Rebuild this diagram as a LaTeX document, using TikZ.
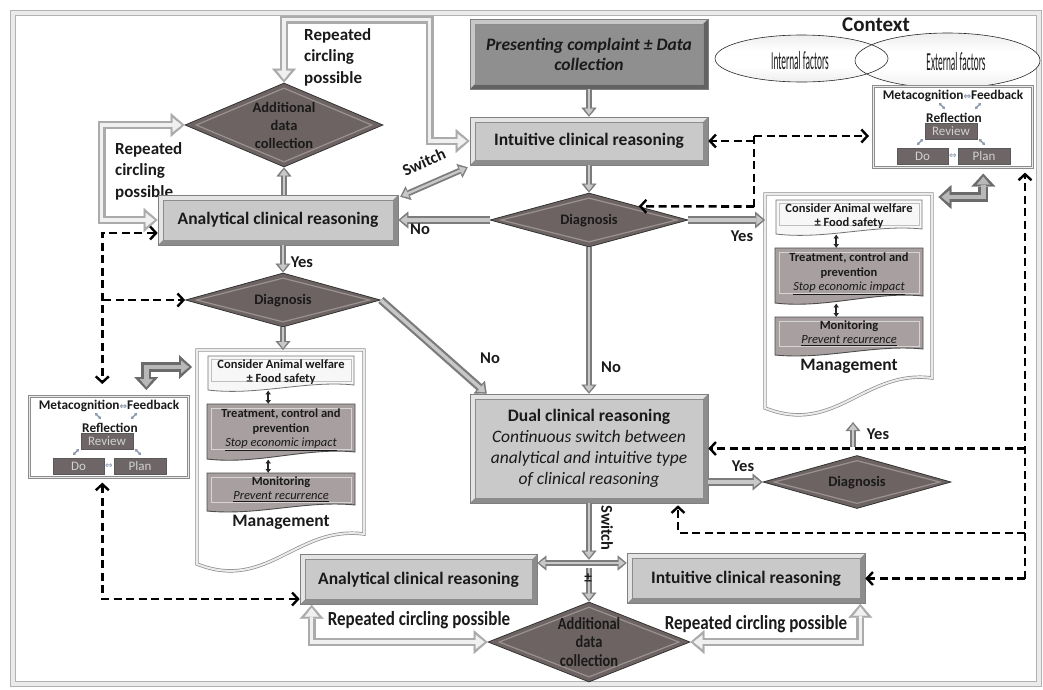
\documentclass[tikz,border=0pt]{standalone}
\usepackage{fontspec}
\setmainfont{Carlito}
\newfontfamily\narrowf[FakeStretch=0.85]{Carlito}
\newfontfamily\thinf[FakeStretch=0.36]{Carlito}
\newfontfamily\symf{DejaVu Sans}
\usetikzlibrary{shapes.geometric,arrows.meta,calc}
\definecolor{boxl}{HTML}{C9C9C9}
\definecolor{boxd}{HTML}{8F8F8F}
\definecolor{diam}{HTML}{6E6363}
\definecolor{mgray}{HTML}{A8A0A0}
\definecolor{mbxc}{HTML}{6E6666}
\definecolor{txt}{HTML}{1A1A1A}
\definecolor{arrout}{HTML}{7C7C7C}
\definecolor{arrin}{HTML}{C8C8C8}
\definecolor{sarrc}{HTML}{7F8EA6}
\newcommand{\fs}[2]{\fontsize{#1}{#2}\selectfont}
\pgfdeclareverticalshading{ellsh}{100bp}{color(0bp)=(black!28); color(22bp)=(black!8); color(42bp)=(white); color(58bp)=(white); color(78bp)=(black!8); color(100bp)=(black!28)}

\tikzset{
  bev/.style={path picture={
    \path (path picture bounding box.south west) coordinate (bA)
          (path picture bounding box.north west) coordinate (bB)
          (path picture bounding box.north east) coordinate (bC)
          (path picture bounding box.south east) coordinate (bD);
    \fill[white,opacity=.5] (bA) -- (bB) -- (bC) -- ([shift={(-#1,-#1)}]bC) -- ([shift={(#1,-#1)}]bB) -- ([shift={(#1,#1)}]bA) -- cycle;
    \fill[black,opacity=.3] (bA) -- (bD) -- (bC) -- ([shift={(-#1,-#1)}]bC) -- ([shift={(-#1,#1)}]bD) -- ([shift={(#1,#1)}]bA) -- cycle;
    \draw[black!45,line width=.5pt] ([shift={(#1,#1)}]bA) rectangle ([shift={(-#1,-#1)}]bC);
  }},
  bev/.default=5pt,
  lbox/.style={rectangle, fill=boxl, draw=black!50, line width=.6pt, bev, text=txt,
    align=center, inner sep=0pt, font=\fs{17.5}{21}\bfseries},
  dbox/.style={lbox, fill=boxd},
  dmd/.style={diamond, fill=diam, draw=black!80, line width=.8pt, inner sep=0pt,
    path picture={
      \path (path picture bounding box.north) coordinate (dN)
            (path picture bounding box.south) coordinate (dS)
            (path picture bounding box.east) coordinate (dE)
            (path picture bounding box.west) coordinate (dW);
      \draw[white,opacity=.3,line width=1.2pt] ([yshift=-5pt]dN) -- ([xshift=-11pt]dE) -- ([yshift=5pt]dS) -- ([xshift=11pt]dW) -- cycle;
    }},
  dtxt/.style={text=txt, align=center, inner sep=0pt, font=\fs{14.5}{18}\bfseries},
  yn/.style={text=txt, inner sep=0pt, font=\fs{16.5}{18}\bfseries},
  rc/.style={text=txt, inner sep=0pt, font=\fs{17}{21.5}\bfseries},
  mt/.style={text=txt, inner sep=0pt, font=\fs{12.5}{15}\bfseries},
  mti/.style={text=txt, inner sep=0pt, font=\fs{12.5}{15}\itshape},
  mtx/.style={text=txt, inner sep=0pt, font=\fs{13.3}{15}\bfseries},
  mbx/.style={rectangle, fill=mbxc, draw=black!65, line width=.6pt, text=white!82!black,
    inner sep=0pt, minimum height=16pt, font=\fs{13}{15}},
  ba/.style={line width=6pt, draw=arrout, -{Triangle[length=9pt,width=15pt,line width=0.3pt]},
    postaction={draw=arrin, line width=2.4pt, -{Triangle[length=6pt,width=9pt,line width=0.3pt]}, shorten >=2pt}},
  baw/.style={line width=8pt, draw=arrout, -{Triangle[length=10pt,width=17pt,line width=0.3pt]},
    postaction={draw=arrin, line width=3.5pt, -{Triangle[length=6.5pt,width=10pt,line width=0.3pt]}, shorten >=2.2pt}},
  bab/.style={line width=6pt, draw=arrout,
    {Triangle[length=9pt,width=15pt,line width=0.3pt]}-{Triangle[length=9pt,width=15pt,line width=0.3pt]},
    postaction={draw=arrin, line width=2.4pt,
      {Triangle[length=6pt,width=9pt,line width=0.3pt]}-{Triangle[length=6pt,width=9pt,line width=0.3pt]},
      shorten >=2pt, shorten <=2pt}},
  lpb/.style={line width=8pt, draw=black!33,
    {Triangle[length=14pt,width=24pt,line width=0.3pt]}-{Triangle[length=14pt,width=24pt,line width=0.3pt]},
    postaction={draw=black!6, line width=3.5pt,
      {Triangle[length=9pt,width=14pt,line width=0.3pt]}-{Triangle[length=9pt,width=14pt,line width=0.3pt]},
      shorten >=3pt, shorten <=3pt}},
  elb/.style={line width=10pt, draw=black!58,
    {Triangle[length=13pt,width=24pt,line width=0.3pt]}-{Triangle[length=13pt,width=24pt,line width=0.3pt]},
    postaction={draw=black!28, line width=4.5pt,
      {Triangle[length=8pt,width=13pt,line width=0.3pt]}-{Triangle[length=8pt,width=13pt,line width=0.3pt]},
      shorten >=3pt, shorten <=3pt}},
  dsh/.style={draw=black, line width=2.6pt, dash pattern=on 8pt off 4.5pt,
    >={Straight Barb[length=6pt,width=13pt,line width=2.4pt]}},
  sar/.style={draw=sarrc, line width=1.3pt, {Latex[length=2.5pt,width=3.5pt]}-{Latex[length=2.5pt,width=3.5pt]}},
  dbl/.style={draw=black!85, line width=1.5pt, {Latex[length=4pt,width=6pt]}-{Latex[length=4pt,width=6pt]}},
}

% management document block: x y name
\newcommand{\mgmtdoc}[3]{%
\begin{scope}[shift={(#1,#2)}]
 \node[anchor=north west, minimum width=167pt, minimum height=216pt, inner sep=0pt] (#3) at (0,0) {};
 \draw[draw=black!45, double=black!8, double distance=2pt, line width=.7pt, fill=white]
   (0,0) -- (167,0) -- (167,184) .. controls (100,175) and (70,242) .. (0,214) -- cycle;
 \node[anchor=north west, minimum width=146pt, minimum height=34pt, inner sep=0pt] (#3c) at (11,6) {};
 \node[anchor=north west, minimum width=148pt, minimum height=55pt, inner sep=0pt] (#3t) at (10,54) {};
 \node[anchor=north west, minimum width=148pt, minimum height=38pt, inner sep=0pt] (#3m) at (10,123) {};
 \draw[draw=black!55, line width=.8pt, fill=black!3]
   (11,6) -- (157,6) -- (157,35) .. controls (110,30) and (60,46) .. (11,40) -- cycle;
 \draw[black!25, line width=.6pt] (14,9) rectangle (154,31);
 \draw[draw=black!70, line width=.9pt, fill=mgray]
   (10,54) -- (158,54) -- (158,102) .. controls (110,97) and (60,115) .. (10,109) -- cycle;
 \draw[white, opacity=.55, line width=.8pt] (14,58) rectangle (154,99);
 \draw[draw=black!70, line width=.9pt, fill=mgray]
   (10,123) -- (158,123) -- (158,155) .. controls (110,150) and (60,166) .. (10,161) -- cycle;
 \draw[white, opacity=.55, line width=.8pt] (14,127) rectangle (154,152);
 \node[mt] (#3a1) at (84,14) {Consider Animal welfare};
 \node[mt] (#3a2) at (84,29) {± Food safety};
 \node[mt] (#3b1) at (84,64) {Treatment, control and};
 \node[mt] (#3b2) at (84,79) {prevention};
 \node[mti] (#3b3) at (84,94) {\underline{Stop economic impact}};
 \node[mt] (#3m1) at (84,132) {Monitoring};
 \node[mti] (#3m2) at (84,147) {\underline{Prevent recurrence}};
 \node[text=txt, inner sep=0pt, font=\fs{17.5}{20}\bfseries] (#3lab) at (84,172) {Management};
 \draw[dbl] ([xshift=-13pt]#3c.south) -- ([xshift=-13pt]#3t.north);
 \draw[dbl] ([xshift=-13pt]#3t.south) -- ([xshift=-13pt]#3m.north);
\end{scope}}

% metacognition block: x y name
\newcommand{\metablock}[3]{%
\begin{scope}[shift={(#1,#2)}]
 \node[anchor=north west, minimum width=159pt, minimum height=81pt, inner sep=0pt, fill=white,
   draw=black!45, double=black!8, double distance=1.5pt, line width=.6pt] (#3) at (0,0) {};
 \node[mtx] (#3a) at (80,10) {Metacognition{\symf\fontsize{9}{9}\selectfont\color{sarrc}⇔}Feedback};
 \node[mtx] (#3b) at (81,32) {Reflection};
 \node[mbx, minimum width=52pt] (#3r) at (78,45) {Review};
 \node[mbx, minimum width=51pt] (#3d) at (49.5,70) {Do};
 \node[mbx, minimum width=52pt] (#3p) at (111,70) {Plan};
 \node[inner sep=0pt, text=sarrc, font=\symf\fs{9}{9}] (#3e) at (80,70) {⇔};
 \draw[sar] (66,17) -- (72,23);
 \draw[sar] (108,17) -- (102,23);
 \draw[sar] (50,53) -- (44,59);
 \draw[sar] (106,53) -- (112,59);
\end{scope}}

\begin{document}
\begin{tikzpicture}[x=1pt,y=-1pt]
\useasboundingbox (0,0) rectangle (1043,689);
% outer frame
\draw[draw=black!30, double=black!8, double distance=4pt, line width=0.8pt] (13,13) rectangle (1039,684);

% context ellipses
\shade[shading=ellsh] (801.5,58.5) ellipse [x radius=86.5, y radius=23.5];
\shade[shading=ellsh] (947.5,60.5) ellipse [x radius=92.5, y radius=27.5];
\draw[black!85, line width=.6pt] (801.5,58.5) ellipse [x radius=86.5, y radius=23.5];
\draw[black!85, line width=.6pt] (947.5,60.5) ellipse [x radius=92.5, y radius=27.5];
\node[text=txt, inner sep=0pt, font=\fs{21}{24}\bfseries] (ctx) at (876,25) {Context};
\node[text=txt, inner sep=0pt, font=\thinf\fs{26}{28}] (intf) at (800,61) {Internal factors};
\node[text=txt, inner sep=0pt, font=\thinf\fs{26}{28}] (extf) at (956,62) {External factors};

% loop labels (under boxes)
\node[rc, align=left, anchor=west] (rc1) at (304,57) {Repeated\\circling\\possible};
\node[rc, align=left, anchor=west] (rc2) at (115,171) {Repeated\\circling\\possible};
\node[text=txt, inner sep=0pt, font=\narrowf\fs{20}{22}\bfseries] (rc3) at (419,620) {Repeated circling possible};
\node[text=txt, inner sep=0pt, font=\narrowf\fs{20}{22}\bfseries] (rc4) at (756,624) {Repeated circling possible};

% boxes
\node[dbox, minimum width=238pt, minimum height=70pt, font=\fs{17.5}{20}\bfseries\itshape] (pres) at (589,54) {Presenting complaint ± Data\\collection};
\node[lbox, minimum width=238pt, minimum height=48pt] (intu) at (589,141) {Intuitive clinical reasoning};
\node[lbox, minimum width=240pt, minimum height=50pt] (anal) at (278,220) {Analytical clinical reasoning};
\node[lbox, minimum width=238pt, minimum height=109pt, font=\fs{17.5}{21}] (dual) at (589,448.5) {\textbf{Dual clinical reasoning}\\\textit{Continuous switch between}\\\textit{analytical and intuitive type}\\\textit{of clinical reasoning}};
\node[lbox, minimum width=237pt, minimum height=50pt] (banal) at (418.5,579.5) {Analytical clinical reasoning};
\node[lbox, minimum width=238pt, minimum height=50pt] (bintu) at (746,578.5) {Intuitive clinical reasoning};

% diamonds
\node[dmd, minimum width=198pt, minimum height=84pt] (addc) at (284,125) {};
\node[dtxt] (addct) at (284,125) {Additional\\data\\collection};
\node[dmd, minimum width=198pt, minimum height=54pt] (dg1) at (589,220) {};
\node[dtxt] (dg1t) at (589,221) {Diagnosis};
\node[dmd, minimum width=195pt, minimum height=54pt] (dg2) at (283,300) {};
\node[dtxt] (dg2t) at (283,301) {Diagnosis};
\node[dmd, minimum width=188pt, minimum height=53pt] (dg3) at (857,482) {};
\node[dtxt] (dg3t) at (857,483) {Diagnosis};
\node[dmd, minimum width=202pt, minimum height=80pt] (bdc) at (589,642) {};
\node[dtxt, font=\narrowf\fs{17}{18.5}\bfseries] (bdct) at (589,642) {Additional\\data\\collection};

% management + metacognition blocks
\mgmtdoc{765}{194}{rmg}
\mgmtdoc{197}{350}{lmg}
\metablock{873}{86}{rmeta}
\metablock{29}{396}{lmeta}

% block arrows
\draw[ba] (pres.south) -- (intu.north);
\draw[ba] (intu.south) -- (dg1.north);
\draw[baw] (dg1.west) -- (anal.east |- dg1.west);
\draw[baw] (dg1.east) -- (dg1.east -| rmg.west);
\draw[ba] (dg1.south) -- (dual.north);
\draw[ba] (addc.south |- anal.north) -- (addc.south);
\draw[ba] (anal.south -| dg2.north) -- (dg2.north);
\draw[ba] (dg2.south) -- (dg2.south |- lmg.north);
\draw[baw] (dg2.east) -- ([xshift=17pt]dual.north west);
\draw[baw] ([yshift=-33.5pt]dual.east) -- (dg3.west);
\draw[ba] ([shift={(-4pt,8pt)}]dg3.north) -- ([shift={(-4pt,33pt)}]dg3.north);
\draw[bab] ([shift={(2pt,-2pt)}]anal.north east) -- ([shift={(-2pt,-2pt)}]intu.south west);
\draw[ba] (dual.south) -- ($(dual.south |- banal.north)+(0,-5.5pt)$);
\draw[bab] ([yshift=16.5pt]banal.east) -- ([yshift=15.5pt]bintu.west);
\draw[ba] ($(dual.south |- banal.north)+(0,-14pt)$) -- (bdc.north);

% repeated circling loops
\draw[lpb] (addc.north) -- ++(0,-63) -| ([xshift=-40pt]intu.west) -- (intu.west);
\draw[lpb] (addc.west) -| ([xshift=-56pt]anal.west) -- (anal.west);
\draw[lpb] ([xshift=12pt]banal.south west) |- (bdc.west);
\draw[lpb] ([xshift=-5pt]bintu.south east) |- (bdc.east);

% elbow arrows to metacognition
\draw[elb] ($(rmeta.south)+(30.5pt,-6pt)$) |- ($(rmg.north east)+(6pt,-3pt)$);
\draw[elb] ($(lmg.north west)+(-5pt,-17pt)$) -| ($(lmeta.north)+(37.5pt,6pt)$);

% dashed feedback lines (left)
\coordinate (jL) at (103,300);
\draw[dsh,<->] ([yshift=-13pt]anal.west) -| ($(lmeta.north)+(-6.5pt,12pt)$);
\draw[dsh,->] (jL) -- (dg2.west);
\draw[dsh,<->] ($(lmeta.south)+(-6.5pt,-5pt)$) |- ([yshift=-19.5pt]banal.west);

% dashed feedback lines (right)
\coordinate (jT) at (754,136);
\coordinate (jB) at (754,206.5);
\draw[dsh] (jT) -- (jB);
\draw[dsh,->, shorten >=4pt] (jT) -- (jT -| rmeta.west);
\draw[dsh,->] (jB) -- (dg1.north east);
\draw[dsh,->] (jT |- intu.east) -- (intu.east);
\coordinate (jR) at (1025,578.5);
\coordinate (jS) at (1025,533);
\draw[dsh,->, shorten >=5pt] (jR) -- (jR |- rmeta.south);
\draw[dsh,->] (jR) -- (bintu.east);
\draw[dsh,->] (jR |- dual.east) -- (dual.east);
\draw[dsh,->] (jS) -| ($(dual.south)+(89pt,-2pt)$);

% labels
\node[yn] (n1) at (420,229) {No};
\node[yn] (y1) at (302,262) {Yes};
\node[yn] (y2) at (742,236) {Yes};
\node[yn] (n2) at (611,367) {No};
\node[yn] (n3) at (490,358) {No};
\node[yn] (y3) at (743,466) {Yes};
\node[yn] (y4) at (878,434) {Yes};
\node[yn, rotate=24] (sw1) at (424,162) {Switch};
\node[yn, rotate=-90] (sw2) at (607,528) {Switch};
\node[text=txt, inner sep=0pt, font=\fs{15}{15}\bfseries] (pm) at (588,578) {±};
\end{tikzpicture}
\end{document}
